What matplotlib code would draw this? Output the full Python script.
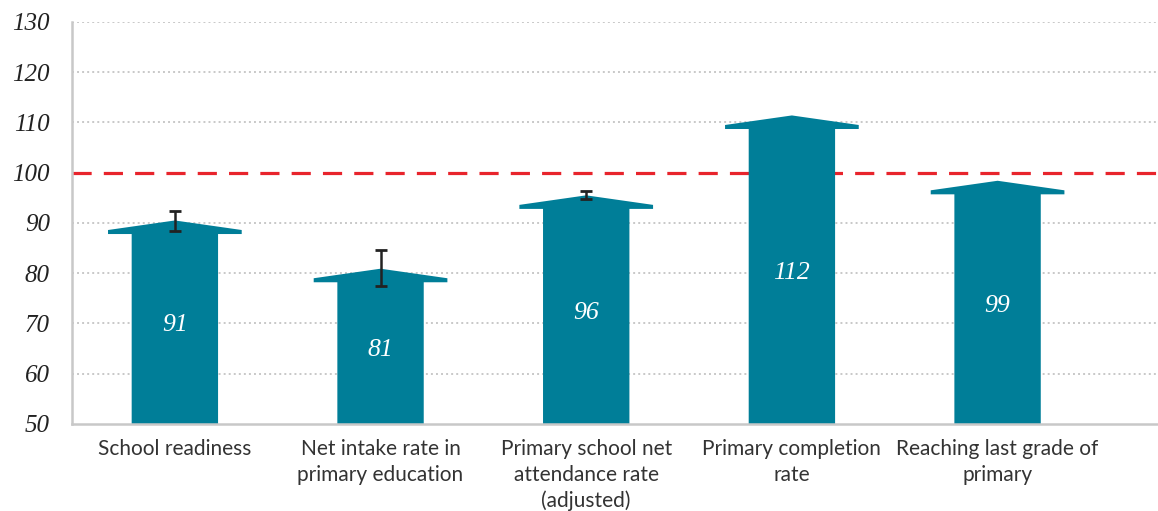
import matplotlib
matplotlib.use("Agg")
import matplotlib.pyplot as plt
import numpy as np

# data
categories = ["School readiness",
              "Net intake rate in\nprimary education",
              "Primary school net\nattendance rate\n(adjusted)",
              "Primary completion\nrate",
              "Reaching last grade of\nprimary"]
values = [90.5, 80.9, 95.5, 111.4, 98.4]
value_labels = ["91", "81", "96", "112", "99"]
err_low = [88.4, 77.5, 94.7, np.nan, np.nan]
err_high = [92.4, 84.6, 96.4, np.nan, np.nan]
target = 100
yticks = [50, 60, 70, 80, 90, 100, 110, 120, 130]

bar_color = "#007e98"
base = 50
body_w = 0.42
wing_w = 0.65
head_h = 1.9    # tip down to wing top
wing_t = 0.8    # wing thickness

fig = plt.figure(figsize=(11.58, 5.11), dpi=100)
ax = fig.add_axes([0.0622, 0.1703, 0.9378, 0.7867])

for y in yticks[1:]:
    if y != target:
        ax.axhline(y, color="#c8c8c8", lw=1.4, ls=(0, (1, 1.6)), zorder=0)

ax.axhline(target, color="#e8242c", lw=2.3, dashes=(6, 3.8), zorder=1)

for i, v in enumerate(values):
    sh = v - head_h - wing_t
    xs = [i - body_w / 2, i - body_w / 2, i - wing_w / 2, i - wing_w / 2, i,
          i + wing_w / 2, i + wing_w / 2, i + body_w / 2, i + body_w / 2]
    ys = [base, sh, sh, v - head_h, v, v - head_h, sh, sh, base]
    ax.fill(xs, ys, color=bar_color, lw=0, zorder=2)
    ax.text(i, (base + sh) / 2 + 0.7, value_labels[i], color="white", fontsize=18.5,
            family="Liberation Serif", style="italic", ha="center", va="center",
            zorder=3)

x = np.arange(len(values))
lo = np.array(err_low)
hi = np.array(err_high)
mid = (lo + hi) / 2
ax.errorbar(x, mid, yerr=[mid - lo, hi - mid], fmt="none", ecolor="#222222",
            elinewidth=1.8, capsize=4.5, capthick=2, zorder=4)

ax.set_xlim(-0.5, 4.78)
ax.set_ylim(50, 130)
ax.set_yticks(yticks)
ax.set_yticklabels([str(t) for t in yticks], family="Liberation Serif",
                   style="italic", fontsize=18, color="#222222")
ax.set_xticks(x)
ax.set_xticklabels(categories, family="Lato", fontsize=15, color="#333333",
                   linespacing=1.33)
ax.tick_params(axis="y", length=0, pad=16)
ax.tick_params(axis="x", length=0, pad=11)

for s in ["top", "right"]:
    ax.spines[s].set_visible(False)
for s in ["left", "bottom"]:
    ax.spines[s].set_color("#c8c8c8")
    ax.spines[s].set_linewidth(1.8)

fig.savefig("out.png", dpi=100)
